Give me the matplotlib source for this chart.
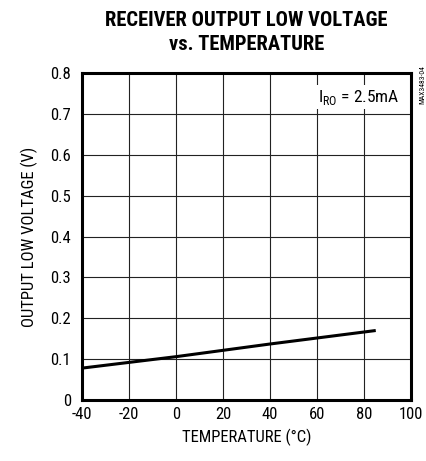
import matplotlib
matplotlib.use("Agg")
import matplotlib.pyplot as plt
from matplotlib import font_manager as fm

fams = {f.name for f in fm.fontManager.ttflist}
FONT = 'Liberation Sans'
for cand in ['Arial Narrow', 'Liberation Sans Narrow', 'Roboto Condensed', 'PT Sans Narrow']:
    if cand in fams:
        FONT = cand
        break
plt.rcParams['font.family'] = [FONT, 'DejaVu Sans']

temperature = [-40, 0, 40, 85]
voltage = [0.078, 0.106, 0.137, 0.170]
xticks = [-40, -20, 0, 20, 40, 60, 80, 100]
yticks = [0, 0.1, 0.2, 0.3, 0.4, 0.5, 0.6, 0.7, 0.8]
ytick_labels = ['0', '0.1', '0.2', '0.3', '0.4', '0.5', '0.6', '0.7', '0.8']

fig = plt.figure(figsize=(4.27, 4.61), dpi=100)
ax = fig.add_axes([82/427, 1-400/461, 329/427, 327/461])
ax.plot(temperature, voltage, color='black', lw=2.2, solid_capstyle='butt', zorder=3)
ax.set_xlim(-40, 100)
ax.set_ylim(0, 0.8)
ax.set_xticks(xticks)
ax.set_xticklabels([str(t) for t in xticks])
ax.set_yticks(yticks)
ax.set_yticklabels(ytick_labels)
ax.tick_params(axis='x', length=0, labelsize=12, pad=5)
ax.tick_params(axis='y', length=0, labelsize=12, pad=8)
ax.grid(True, color='#222222', lw=0.8)
for s in ax.spines.values():
    s.set_linewidth(2.2)
ax.set_xlabel('TEMPERATURE (°C)', fontsize=12, labelpad=5)
ax.set_ylabel('OUTPUT LOW VOLTAGE (V)', fontsize=12, labelpad=9)
fig.text(246.5/427, 1-20/461, 'RECEIVER OUTPUT LOW VOLTAGE', ha='center', va='center',
         fontsize=14.8, fontweight='bold')
fig.text(246.5/427, 1-45/461, 'vs. TEMPERATURE', ha='center', va='center',
         fontsize=14.8, fontweight='bold')
ax.text(0.965, 0.955, r'I$_{\mathregular{RO}}$ = 2.5mA', transform=ax.transAxes, ha='right', va='top',
        fontsize=12.5, bbox=dict(facecolor='white', edgecolor='none', pad=2), zorder=4)
fig.text(422/427, 1-65/461, 'MAX3483-04', rotation=90, ha='center', va='top', fontsize=5.5)
fig.savefig('out.png', dpi=100)
